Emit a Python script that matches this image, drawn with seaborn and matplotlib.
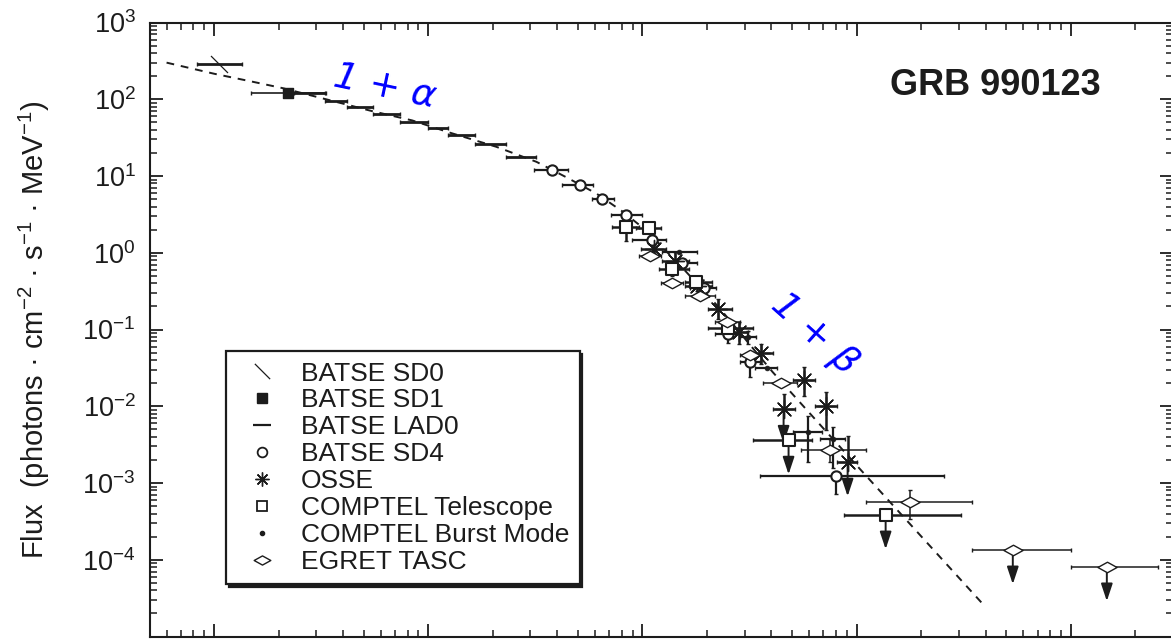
import numpy as np
import matplotlib
matplotlib.use("Agg")
import matplotlib.pyplot as plt
import seaborn as sns
from matplotlib.path import Path
from matplotlib.lines import Line2D
from matplotlib.patches import ArrowStyle

# ---- spectrum of GRB 990123: energy in MeV, flux in photons cm^-2 s^-1 MeV^-1 ----

# Band-function fit drawn as a dashed curve
model_E = [0.0060, 0.0100, 0.0150, 0.0208, 0.0333, 0.0547, 0.0841, 0.125, 0.208, 0.320,
           0.442, 0.610, 0.807, 1.08, 1.29, 1.49, 2.29, 4.05, 10.3, 40.1]
model_F = [300, 215, 170, 140, 100, 70, 53, 37, 24, 15.3,
           9.6, 5.9, 3.45, 1.8, 1.05, 0.70, 0.19, 0.028, 0.00155, 2.4e-5]

# BATSE SD0
sd0_E, sd0_F = [0.0106], [291]
sd0_Elo, sd0_Ehi = [0.0083], [0.0135]

# BATSE SD1
sd1_E, sd1_F = [0.0222], [119]
sd1_Elo, sd1_Ehi = [0.0149], [0.0334]

# BATSE LAD0 channels
lad_E = [0.0280, 0.0371, 0.0481, 0.0640, 0.0860, 0.1113, 0.1435, 0.1957, 0.2718]
lad_F = [120, 96, 80, 65, 50, 41.6, 34, 25.8, 17.6]
lad_Elo = [0.0237, 0.0330, 0.0418, 0.0553, 0.0740, 0.100, 0.124, 0.166, 0.231]
lad_Ehi = [0.0330, 0.0418, 0.0553, 0.0740, 0.100, 0.124, 0.166, 0.231, 0.320]

# BATSE SD4
sd4_E = [0.380, 0.513, 0.650, 0.842, 1.114, 1.522, 1.928, 2.496, 3.162, 7.98]
sd4_F = [11.8, 7.55, 5.07, 3.07, 1.455, 0.730, 0.345, 0.0871, 0.0377, 0.00124]
sd4_Elo = [0.313, 0.423, 0.584, 0.716, 0.898, 1.295, 1.66, 2.17, 2.84, 3.52]
sd4_Ehi = [0.447, 0.590, 0.740, 1.00, 1.295, 1.79, 2.20, 2.85, 3.52, 25.5]
sd4_Flo = [11.8, 7.55, 5.07, 3.07, 1.455, 0.730, 0.345, 0.066, 0.0241, 0.00072]
sd4_Fhi = [11.8, 7.55, 5.07, 3.07, 1.455, 0.730, 0.345, 0.095, 0.040, 0.00135]

# OSSE
osse_E = [1.138, 1.426, 1.807, 2.241, 2.809, 3.559, 4.560, 5.652, 7.164, 9.077]
osse_F = [1.11, 0.775, 0.367, 0.184, 0.0925, 0.0493, 0.00922, 0.0220, 0.0101, 0.00189]
osse_Elo = [0.989, 1.240, 1.588, 2.013, 2.551, 3.231, 4.050, 5.023, 6.364, 8.064]
osse_Ehi = [1.295, 1.658, 2.101, 2.606, 3.095, 4.050, 5.133, 6.364, 8.064, 10.0]
osse_Flo = [1.00, 0.525, 0.32, 0.136, 0.0646, 0.0355, 0.00922, 0.0136, 0.00492, 0.00189]
osse_Fhi = [1.25, 1.02, 0.42, 0.248, 0.125, 0.0646, 0.01445, 0.0325, 0.0153, 0.00412]
osse_ul = [0, 0, 0, 0, 0, 0, 1, 0, 0, 1]

# COMPTEL Telescope
ct_E = [0.842, 1.078, 1.381, 1.769, 2.496, 4.811, 13.66]
ct_F = [2.15, 2.08, 0.610, 0.413, 0.1043, 0.00365, 0.000387]
ct_Elo = [0.724, 0.9375, 1.20, 1.588, 2.013, 3.266, 8.696]
ct_Ehi = [0.968, 1.227, 1.658, 2.101, 3.266, 6.163, 30.6]
ct_Flo = [1.42, 2.08, 0.50, 0.413, 0.0835, 0.00365, 0.000387]
ct_Fhi = [2.30, 2.08, 0.75, 0.413, 0.130, 0.00365, 0.000387]
ct_ul = [0, 0, 0, 0, 0, 1, 1]

# COMPTEL Burst Mode
cb_E = [1.488, 3.095, 3.797, 5.902, 7.725]
cb_F = [1.015, 0.0796, 0.0315, 0.00463, 0.00376]
cb_Elo = [1.240, 2.84, 3.337, 5.023, 6.716]
cb_Ehi = [1.807, 3.40, 4.229, 6.862, 8.788]
cb_Flo = [1.015, 0.0638, 0.0315, 0.00189, 0.00159]
cb_Fhi = [1.015, 0.0945, 0.0315, 0.00751, 0.00537]

# EGRET TASC
eg_E = [1.090, 1.381, 1.847, 2.469, 3.162, 4.415, 7.478, 17.69, 53.6, 147.3]
eg_F = [0.900, 0.401, 0.272, 0.1248, 0.0465, 0.0201, 0.00271, 0.000570, 0.0001355, 8.15e-5]
eg_Elo = [0.9682, 1.227, 1.588, 2.170, 2.84, 3.637, 5.473, 11.02, 34.46, 100]
eg_Ehi = [1.227, 1.554, 2.170, 2.84, 3.522, 5.245, 11.02, 34.46, 100, 255]
eg_Flo = [0.900, 0.401, 0.272, 0.1248, 0.0465, 0.0201, 0.00189, 0.000342, 0.0001355, 8.15e-5]
eg_Fhi = [0.900, 0.401, 0.272, 0.1248, 0.0465, 0.0201, 0.00376, 0.000816, 0.0001355, 8.15e-5]
eg_ul = [0, 0, 0, 0, 0, 0, 0, 0, 1, 1]

legend_labels = ["BATSE SD0", "BATSE SD1", "BATSE LAD0", "BATSE SD4", "OSSE",
                 "COMPTEL Telescope", "COMPTEL Burst Mode", "EGRET TASC"]

# ---- style ----
sns.set_style("ticks")
plt.rcParams["font.family"] = ["Liberation Sans", "DejaVu Sans"]
plt.rcParams["mathtext.fontset"] = "custom"
plt.rcParams["mathtext.rm"] = "Liberation Sans"
plt.rcParams["mathtext.it"] = "Liberation Sans:italic"
plt.rcParams["mathtext.bf"] = "Liberation Sans:bold"
INK = "#1c1c1c"

fig = plt.figure(figsize=(11.71, 6.39), dpi=100)
ax = fig.add_axes([149.6 / 1171, 2.5 / 639, 1023.4 / 1171, 614 / 639])
ax.set_xscale("log")
ax.set_yscale("log")
ax.set_xlim(0.005, 300)
ax.set_ylim(1e-5, 1e3)

# markers
backslash = Path([(-1, 1), (1, -1)], [Path.MOVETO, Path.LINETO])
flat_diamond = Path([(-1, 0), (0, 0.55), (1, 0), (0, -0.55), (-1, 0)],
                    [Path.MOVETO, Path.LINETO, Path.LINETO, Path.LINETO, Path.CLOSEPOLY])
asterisk = (8, 2, 0)


def bars(E, F, Elo, Ehi, Flo=None, Fhi=None, lw=1.2):
    E, F = np.asarray(E), np.asarray(F)
    xerr = [E - np.asarray(Elo), np.asarray(Ehi) - E]
    yerr = None
    if Flo is not None:
        yerr = [F - np.asarray(Flo), np.asarray(Fhi) - F]
    ax.errorbar(E, F, xerr=xerr, yerr=yerr, fmt="none", ecolor=INK,
                elinewidth=lw, capsize=1.5, capthick=1.0, zorder=2)


def limits(E, F, flags):
    style = ArrowStyle("-|>", head_length=0.75, head_width=0.25)
    for e, f, u in zip(E, F, flags):
        if u:
            ax.annotate("", xy=(e, f * 10 ** -0.45), xytext=(e, f),
                        arrowprops=dict(arrowstyle=style, color=INK, lw=1.4,
                                        mutation_scale=14, shrinkA=0, shrinkB=0),
                        zorder=2)


# dashed model curve
sns.lineplot(x=model_E, y=model_F, ax=ax, color=INK, lw=1.4, linestyle=(0, (4, 3.5)),
             estimator=None, sort=False, zorder=1)

# error bars
bars(sd0_E, sd0_F, sd0_Elo, sd0_Ehi, lw=2.0)
bars(sd1_E, sd1_F, sd1_Elo, sd1_Ehi)
bars(lad_E, lad_F, lad_Elo, lad_Ehi, lw=2.0)
bars(sd4_E, sd4_F, sd4_Elo, sd4_Ehi, sd4_Flo, sd4_Fhi, lw=1.6)
bars(osse_E, osse_F, osse_Elo, osse_Ehi, osse_Flo, osse_Fhi, lw=1.8)
bars(ct_E, ct_F, ct_Elo, ct_Ehi, ct_Flo, ct_Fhi, lw=1.8)
bars(cb_E, cb_F, cb_Elo, cb_Ehi, cb_Flo, cb_Fhi, lw=1.6)
bars(eg_E, eg_F, eg_Elo, eg_Ehi, eg_Flo, eg_Fhi, lw=1.1)
limits(osse_E, osse_F, osse_ul)
limits(ct_E, ct_F, ct_ul)
limits(eg_E, eg_F, eg_ul)

# symbols
sns.scatterplot(x=sd0_E, y=sd0_F, marker=backslash, s=150, color=INK, edgecolor=INK,
                linewidth=0.9, ax=ax, zorder=3)
sns.scatterplot(x=sd1_E, y=sd1_F, marker="s", s=60, color=INK, edgecolor=INK,
                linewidth=1, ax=ax, zorder=3)
sns.scatterplot(x=sd4_E, y=sd4_F, marker="o", s=55, color="white", edgecolor=INK,
                linewidth=1.5, ax=ax, zorder=3)
sns.scatterplot(x=osse_E, y=osse_F, marker=asterisk, s=170, color=INK,
                linewidth=1.0, ax=ax, zorder=3)
sns.scatterplot(x=ct_E, y=ct_F, marker="s", s=75, color="white", edgecolor=INK,
                linewidth=1.5, ax=ax, zorder=3)
sns.scatterplot(x=cb_E, y=cb_F, marker="o", s=12, color=INK, edgecolor=INK,
                linewidth=0.5, ax=ax, zorder=3)
sns.scatterplot(x=eg_E, y=eg_F, marker=flat_diamond, s=190, color="white", edgecolor=INK,
                linewidth=1.0, ax=ax, zorder=3)

# axes cosmetics
for side in ax.spines.values():
    side.set_linewidth(1.5)
    side.set_color(INK)
ax.tick_params(which="both", direction="in", top=True, right=True, color=INK,
               labelbottom=False, labelcolor=INK)
ax.tick_params(which="major", length=9.5, width=1.3, labelsize=19.5, pad=10)
ax.tick_params(which="minor", length=5, width=1.1)
ax.set_yticks([1e-4, 1e-3, 1e-2, 1e-1, 1e0, 1e1, 1e2, 1e3])
ax.set_ylabel("Flux  (photons · cm$^{-2}$ · s$^{-1}$ · MeV$^{-1}$)", fontsize=21, color=INK)
ax.yaxis.set_label_coords(-0.095, 0.5)

ax.text(0.826, 0.882, "GRB 990123", transform=ax.transAxes, ha="center", va="baseline",
        fontsize=26, fontweight="bold", color=INK)

# slope annotations
ax.text(0.063, 146, "1 + α", color="#0000ff", fontsize=27, family="DejaVu Sans",
        style="italic", rotation=-12, ha="center", va="center", rotation_mode="anchor")
ax.text(6.36, 0.0871, "1 + β", color="#0000ff", fontsize=27, family="DejaVu Sans",
        style="italic", rotation=-42, ha="center", va="center", rotation_mode="anchor")

# legend
handles = [
    Line2D([], [], ls="none", marker=backslash, ms=11, color=INK, mew=0.9),
    Line2D([], [], ls="none", marker="s", ms=7, color=INK),
    Line2D([], [], ls="none", marker="_", ms=13, color=INK, mew=1.6),
    Line2D([], [], ls="none", marker="o", ms=7, mfc="white", mec=INK, mew=1.3),
    Line2D([], [], ls="none", marker=asterisk, ms=10, color=INK, mew=1.0),
    Line2D([], [], ls="none", marker="s", ms=7, mfc="white", mec=INK, mew=1.3),
    Line2D([], [], ls="none", marker="o", ms=3, color=INK),
    Line2D([], [], ls="none", marker=flat_diamond, ms=12, mfc="white", mec=INK, mew=1.0),
]
leg = ax.legend(handles, legend_labels, loc="upper left", bbox_to_anchor=(0.0747, 0.465),
                borderaxespad=0, frameon=True, fancybox=False,
                shadow={"color": INK, "alpha": 1}, fontsize=19, labelspacing=0.11,
                handlelength=1.9, handletextpad=0.53, borderpad=0.4, labelcolor=INK)
frame = leg.get_frame()
frame.set_edgecolor(INK)
frame.set_linewidth(1.6)
frame.set_facecolor("white")
frame.set_alpha(1)

fig.savefig("out.png", dpi=100)
